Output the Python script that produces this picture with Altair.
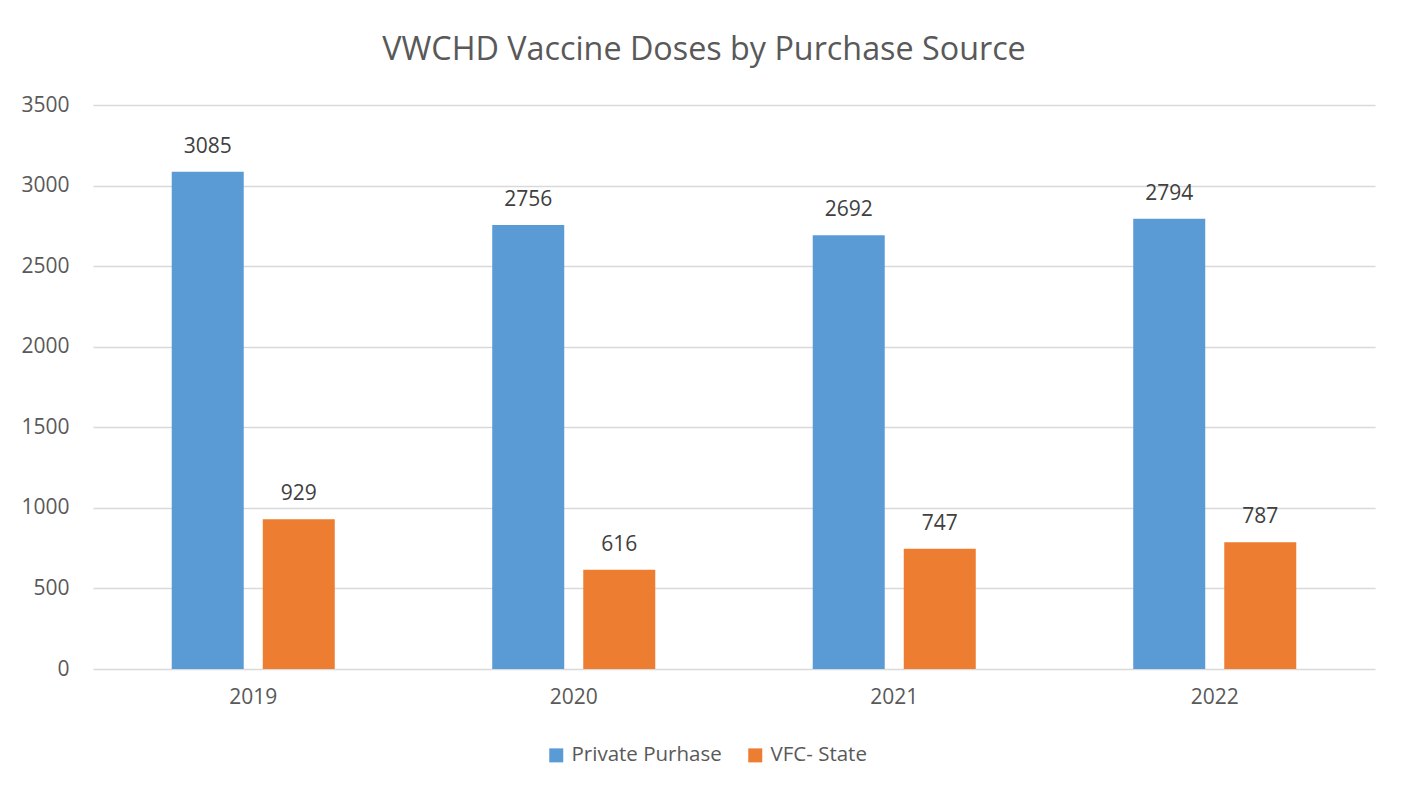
import altair as alt
import pandas as pd

years = ["2019", "2020", "2021", "2022"]
series = ["Private Purhase", "VFC- State"]
private = [3085, 2756, 2692, 2794]
vfc = [929, 616, 747, 787]
colors = ["#5B9BD5", "#ED7D31"]

rows = []
for i, y in enumerate(years):
    rows.append({"year": y, "source": series[0], "doses": private[i]})
    rows.append({"year": y, "source": series[1], "doses": vfc[i]})
df = pd.DataFrame(rows)

FONT = "Open Sans"
TXT = "#595959"
FS = 21

base = alt.Chart(df).encode(
    x=alt.X("year:N", sort=years,
            scale=alt.Scale(paddingInner=0, paddingOuter=0),
            axis=alt.Axis(title=None, labelAngle=0, labelFontSize=FS, labelColor=TXT,
                          labelFont=FONT, labelPadding=17, ticks=False, domain=False)),
    xOffset=alt.XOffset("source:N", sort=series,
                        scale=alt.Scale(paddingInner=0.209, paddingOuter=0.865)),
)

bars = base.mark_bar().encode(
    y=alt.Y("doses:Q", scale=alt.Scale(domain=[0, 3500]),
            axis=alt.Axis(title=None, values=[0, 500, 1000, 1500, 2000, 2500, 3000, 3500],
                          format="d",
                          labelFontSize=FS, labelColor=TXT, labelFont=FONT,
                          labelPadding=24, ticks=False, domain=False,
                          gridColor="#D9D9D9", gridWidth=1.3)),
    color=alt.Color("source:N", sort=series,
                    scale=alt.Scale(domain=series, range=colors),
                    legend=alt.Legend(title=None, orient="none", direction="horizontal",
                                      legendX=453, legendY=640, symbolType="square",
                                      symbolSize=196, symbolStrokeWidth=0,
                                      labelFontSize=20.5, labelColor=TXT, labelFont=FONT,
                                      columnPadding=23, labelOffset=5)),
)

labels = base.mark_text(dy=-15, baseline="bottom", fontSize=FS, font=FONT, color="#404040").encode(
    y=alt.Y("doses:Q"),
    text=alt.Text("doses:Q"),
)

chart = (bars + labels).properties(
    width=1282,
    height=564,
    autosize=alt.AutoSizeParams(type="none"),
    padding={"left": 85, "top": 97, "right": 22, "bottom": 113},
    title=alt.Title("VWCHD Vaccine Doses by Purchase Source", fontSize=32.3, font=FONT,
                    fontWeight="normal", color=TXT, anchor="middle", dx=-30, offset=28),
).configure_view(stroke=None)

chart.save("out.html", embed_options={"renderer": "svg", "actions": False})
